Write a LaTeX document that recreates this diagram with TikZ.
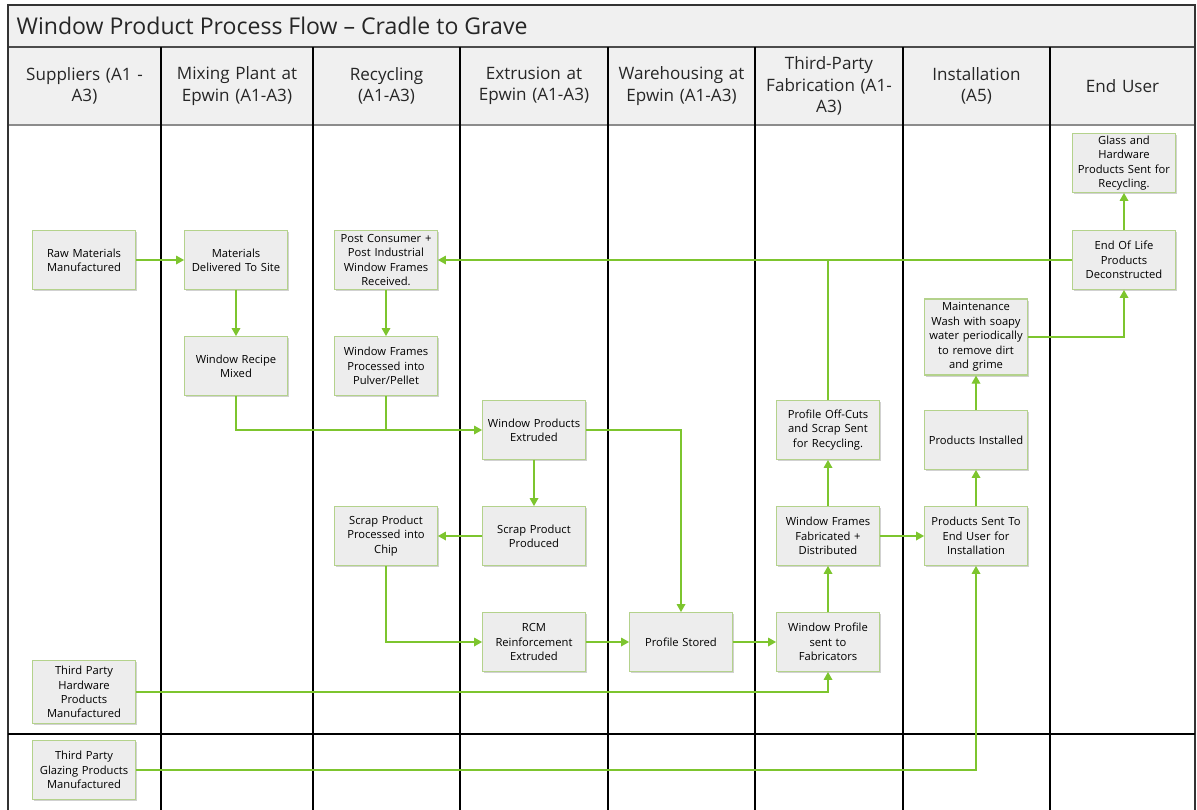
\documentclass[tikz,border=0pt]{standalone}
\usepackage{fontspec}
\setmainfont{Open Sans}
\usetikzlibrary{arrows.meta,shadows}
\definecolor{flowgreen}{HTML}{7DC52E}
\definecolor{boxline}{HTML}{B4D28C}
\definecolor{boxfill}{HTML}{EDEDED}
\definecolor{headfill}{HTML}{F0F0F0}
\tikzset{
  procbox/.style={rectangle,draw=boxline,fill=boxfill,line width=0.9pt,
    minimum width=77pt,minimum height=44pt,text width=76pt,align=center,
    inner sep=0.5pt,text=black,font=\fontsize{8.4}{10.8}\selectfont,
    drop shadow={shadow xshift=1pt,shadow yshift=-1.2pt,opacity=0.3,fill=black!60}},
  headtext/.style={text width=110pt,align=center,text=black!85,
    font=\fontsize{12.8}{16}\selectfont},
  flow/.style={draw=flowgreen,line width=0.9pt,-{Triangle[length=6pt,width=6.5pt]}},
  lane/.style={line width=1.5pt,black},
}
\begin{document}
\begin{tikzpicture}[x=0.75pt,y=-0.75pt]
\useasboundingbox (0,0) rectangle (1197,810);
% title bar and headers
\fill[headfill] (8,5) rectangle (1195,125);
\draw[black!70,line width=1.2pt] (8,47) -- (1195,47);
\draw[black!45,line width=1pt] (8,125) -- (1195,125);
\draw[black!80,line width=1.5pt] (8,810) -- (8,5) -- (1195,5) -- (1195,810);
\node[anchor=west,text=black!85,font=\fontsize{17.3}{20}\selectfont] (title) at (12,26) {Window Product Process Flow -- Cradle to Grave};
\foreach \x in {161,313,460,608,755,903,1050}
  \draw[lane] (\x,47) -- (\x,810);
\draw[lane] (8,734) -- (1195,734);

\node[headtext] (hsup) at (84.5,86) {Suppliers (A1 -\\A3)};
\node[headtext] (hmix) at (237,86) {Mixing Plant at\\Epwin (A1-A3)};
\node[headtext] (hrec) at (386.5,86) {Recycling\\(A1-A3)};
\node[headtext] (hext) at (534,86) {Extrusion at\\Epwin (A1-A3)};
\node[headtext] (hwar) at (681.5,86) {Warehousing at\\Epwin (A1-A3)};
\node[headtext] (hfab) at (829,86) {Third-Party\\Fabrication (A1-\\A3)};
\node[headtext] (hins) at (976.5,86) {Installation\\(A5)};
\node[headtext] (husr) at (1122.5,86) {End User};

% process boxes
\node[procbox] (raw) at (84,260) {Raw Materials\\Manufactured};
\node[procbox] (deliv) at (236,260) {Materials\\Delivered To Site};
\node[procbox] (recipe) at (236,366) {Window Recipe\\Mixed};
\node[procbox] (post) at (386,260) {Post Consumer +\\Post Industrial\\Window Frames\\Received.};
\node[procbox] (pulver) at (386,366) {Window Frames\\Processed into\\Pulver/Pellet};
\node[procbox] (extr) at (534,430) {Window Products\\Extruded};
\node[procbox] (scrap) at (534,536) {Scrap Product\\Produced};
\node[procbox] (chip) at (386,536) {Scrap Product\\Processed into\\Chip};
\node[procbox] (rcm) at (534,642) {RCM\\Reinforcement\\Extruded};
\node[procbox] (stored) at (681,642) {Profile Stored};
\node[procbox] (sent) at (828,642) {Window Profile\\sent to\\Fabricators};
\node[procbox] (fab) at (828,536) {Window Frames\\Fabricated +\\Distributed};
\node[procbox] (offcut) at (828,430) {Profile Off-Cuts\\and Scrap Sent\\for Recycling.};
\node[procbox] (touser) at (976,536) {Products Sent To\\End User for\\Installation};
\node[procbox] (installed) at (976,440) {Products Installed};
\node[procbox,minimum height=57pt] (maint) at (976,337) {Maintenance\\Wash with soapy\\water periodically\\to remove dirt\\and grime};
\node[procbox] (eol) at (1124,260) {End Of Life\\Products\\Deconstructed};
\node[procbox] (glass) at (1124,163) {Glass and\\Hardware\\Products Sent for\\Recycling.};
\node[procbox,minimum height=47pt] (hardware) at (84,692) {Third Party\\Hardware\\Products\\Manufactured};
\node[procbox] (glazing) at (84,770) {Third Party\\Glazing Products\\Manufactured};

% flows
\draw[flow] (raw) -- (deliv);
\draw[flow] (deliv) -- (recipe);
\draw[flow] (post) -- (pulver);
\draw[flow] (recipe.south) |- (extr.west);
\draw[flow,-] (pulver.south) -- (pulver.south |- extr.west);
\draw[flow] (extr) -- (scrap);
\draw[flow] (extr.east) -| (stored.north);
\draw[flow] (scrap) -- (chip);
\draw[flow] (chip.south) |- (rcm.west);
\draw[flow] (rcm) -- (stored);
\draw[flow] (stored) -- (sent);
\draw[flow] (sent) -- (fab);
\draw[flow] (fab) -- (offcut);
\draw[flow] (eol.west) -- (post.east);
\draw[flow,-] (offcut.north) -- (offcut.north |- eol.west);
\draw[flow] (fab) -- (touser);
\draw[flow] (touser) -- (installed);
\draw[flow] (installed) -- (maint);
\draw[flow] (maint.east) -| (eol.south);
\draw[flow] (eol) -- (glass);
\draw[flow] (hardware.east) -| (sent.south);
\draw[flow] (glazing.east) -| (touser.south);
\end{tikzpicture}
\end{document}
